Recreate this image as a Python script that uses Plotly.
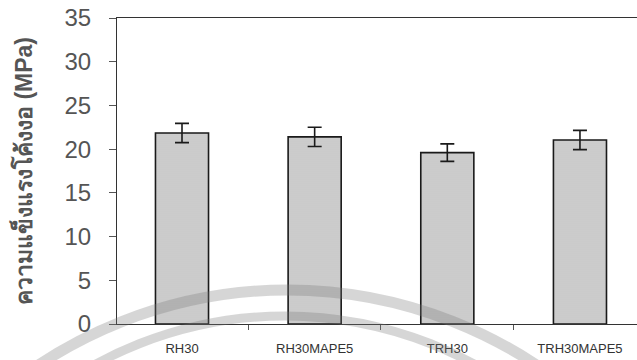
import plotly.graph_objects as go

# Flexural strength of the four composite formulations
samples = ["RH30", "RH30MAPE5", "TRH30", "TRH30MAPE5"]
strength = [21.85, 21.4, 19.6, 21.05]
strength_sd = [1.1, 1.1, 1.0, 1.1]
y_ticks = [0, 5, 10, 15, 20, 25, 30, 35]

W, H = 637, 360
ML, MR, MT, MB = 117, 0, 18, 36
PW, PH = W - ML - MR, H - MT - MB


def px_to_paper(x, y):
    return (x - ML) / PW, (H - MB - y) / PH


fig = go.Figure()
fig.add_trace(go.Bar(
    x=samples,
    y=strength,
    marker=dict(
        color="#cbcbcb",
        line=dict(color="#1a1a1a", width=1.6),
        pattern=dict(shape=".", fgcolor="#a8a8a8", bgcolor="#d0d0d0",
                     size=2, solidity=0.3),
    ),
    error_y=dict(type="data", array=strength_sd, visible=True,
                 color="#1a1a1a", thickness=1.6, width=7),
    showlegend=False,
))

# faint circular stamp arcs across the lower part of the page
shapes = []
for cx, cy, r, w in [(287.5, 740, 450, 11), (285, 712, 396, 9)]:
    x0, y0 = px_to_paper(cx - r, cy + r)
    x1, y1 = px_to_paper(cx + r, cy - r)
    shapes.append(dict(type="circle", xref="paper", yref="paper",
                       x0=x0, y0=y0, x1=x1, y1=y1,
                       line=dict(color="rgba(120,120,120,0.3)", width=w),
                       layer="above"))

fig.update_layout(
    width=W, height=H,
    margin=dict(l=ML, r=MR, t=MT, b=MB),
    paper_bgcolor="white", plot_bgcolor="white",
    bargap=0.6,
    shapes=shapes,
    font=dict(family="Liberation Sans, Arial, sans-serif", color="#333"),
)
fig.update_xaxes(
    range=[-0.49, 3.43],
    showline=True, linecolor="#333", linewidth=1.2, mirror=True,
    ticks="outside", tickson="boundaries", ticklen=5, tickcolor="#555",
    tickfont=dict(size=13, color="#333"), ticklabelstandoff=12,
    showgrid=False,
)
fig.update_yaxes(
    range=[0, 35], tickvals=y_ticks,
    showline=True, linecolor="#333", linewidth=1.2,
    ticks="outside", ticklen=7, tickcolor="#555",
    tickfont=dict(size=24, color="#555"), ticklabelstandoff=13,
    showgrid=False, zeroline=False,
    title=dict(text="<b>ความแข็งแรงโค้งงอ (MPa)</b>",
               font=dict(size=23, color="#555"), standoff=25),
)

fig.write_html("out.html")
